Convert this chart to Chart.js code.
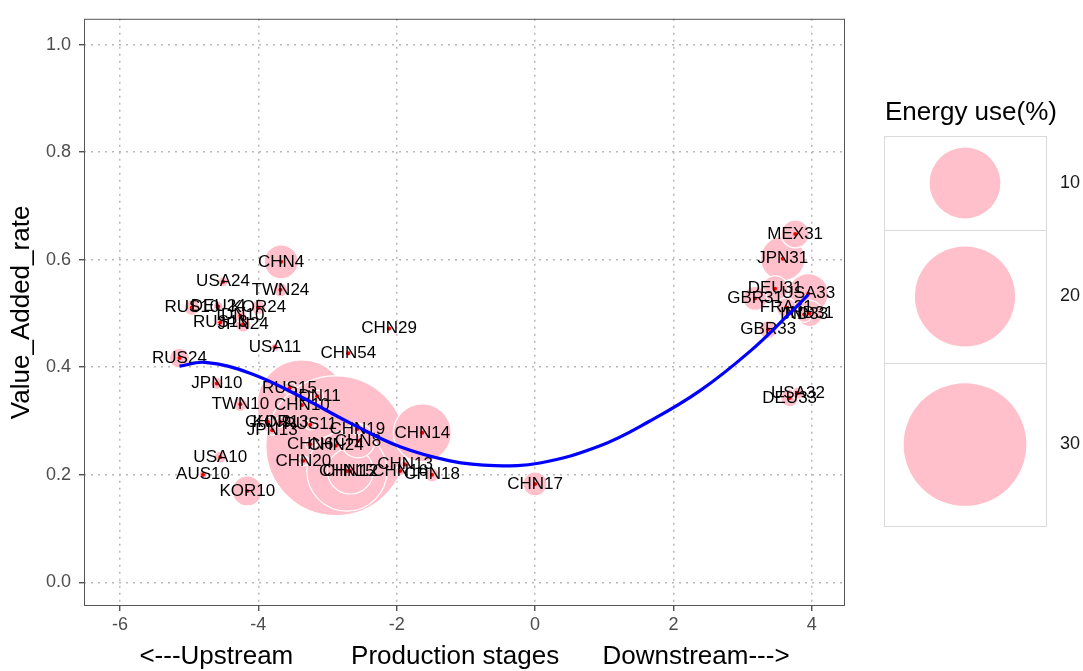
<!DOCTYPE html>
<html>
<head>
<meta charset="utf-8">
<title>Value added rate by production stage</title>
<script src="https://cdn.jsdelivr.net/npm/chart.js@4.4.0/dist/chart.umd.min.js"></script>
<style>
  html, body { margin: 0; padding: 0; background: #fff; }
  #wrap { width: 1083px; height: 671px; }
</style>
</head>
<body>
<div id="wrap"><canvas id="stage-chart" width="1083" height="671"></canvas></div>
<script>
// sectors in draw order (largest bubbles first)
const sectors = ['CHN10', 'CHN24', 'CHN15', 'CHN14', 'CHN12', 'JPN31', 'USA33', 'CHN4', 'CHN8', 'KOR10',
    'MEX31', 'DEU31', 'IND31', 'GBR31', 'CHN17', 'RUS24', 'FRA31', 'GBR33', 'DEU33', 'RUS10',
    'JPN24', 'IND33', 'TWN24', 'KOR24', 'TWN10', 'CHN18', 'IDN10', 'JPN10', 'USA10', 'RUS15',
    'IDN11', 'CHN19', 'USA32', 'USA24', 'DEU24', 'RUS13', 'CHN9', 'KOR13', 'JPN13', 'RUS11',
    'CHN6', 'CHN20', 'CHN13', 'CHN16', 'USA11', 'AUS10', 'CHN29', 'CHN54'];
const stages = [-3.37, -2.88, -2.72, -1.63, -2.67, 3.58, 3.95, -3.67, -2.56, -4.16,
    3.76, 3.47, 3.97, 3.18, 0.00, -5.14, 3.63, 3.37, 3.68, -4.96,
    -4.22, 3.89, -3.68, -4.00, -4.26, -1.49, -4.26, -4.60, -4.55, -3.55,
    -3.15, -2.57, 3.80, -4.51, -4.58, -4.55, -3.86, -3.68, -3.80, -3.25,
    -3.25, -3.35, -1.88, -1.95, -3.76, -4.80, -2.11, -2.70];
const valueAdded = [0.330, 0.254, 0.207, 0.278, 0.207, 0.602, 0.537, 0.596, 0.263, 0.170,
    0.648, 0.546, 0.500, 0.528, 0.183, 0.417, 0.511, 0.470, 0.343, 0.511,
    0.480, 0.498, 0.544, 0.511, 0.331, 0.200, 0.496, 0.370, 0.233, 0.361,
    0.346, 0.285, 0.352, 0.559, 0.513, 0.483, 0.298, 0.298, 0.283, 0.293,
    0.257, 0.226, 0.219, 0.207, 0.437, 0.200, 0.472, 0.426];
const energyUse = [16.1, 39, 12.8, 6.7, 4.2, 3.9, 3.2, 2.3, 2.3, 1.8,
    1.56, 1.35, 1.35, 1.15, 1.15, 0.8, 0.8, 0.65, 0.65, 0.5,
    0.5, 0.5, 0.4, 0.4, 0.4, 0.4, 0.3, 0.3, 0.3, 0.3,
    0.3, 0.3, 0.3, 0.2, 0.2, 0.2, 0.2, 0.2, 0.2, 0.2,
    0.2, 0.2, 0.2, 0.2, 0.13, 0.13, 0.07, 0.07];

// smoothed trend
const trendX = [-5.14, -4.77, -4.12, -3.40, -2.67, -1.95, -1.23, -0.58, 0.07, 0.94, 1.66, 2.38, 3.11, 3.68, 3.95];
const trendY = [0.402, 0.409, 0.389, 0.346, 0.296, 0.252, 0.226, 0.217, 0.222, 0.254, 0.300, 0.356, 0.430, 0.500, 0.535];

const xTicks = [-6, -4, -2, 0, 2, 4];
const yTicks = [0, 0.2, 0.4, 0.6, 0.8, 1.0];
const legendSizes = [10, 20, 30];

const FONT = '"Liberation Sans", Arial, sans-serif';
Chart.defaults.font.family = FONT;

function sizeOf(e) {
    return 11.2 * Math.sqrt(e);
}

const bubbles = sectors.map((s, i) => ({ x: stages[i], y: valueAdded[i], r: sizeOf(energyUse[i]) }));
const dots = sectors.map((s, i) => ({ x: stages[i], y: valueAdded[i], r: 2 }));
const trend = trendX.map((x, i) => ({ x: x, y: trendY[i] }));

const extras = {
    id: 'extras',
    afterDatasetDraw(chart, args) {
        if (args.index !== 1) return;
        const ctx = chart.ctx, sx = chart.scales.x, sy = chart.scales.y;
        ctx.save();
        ctx.font = '17px ' + FONT;
        ctx.fillStyle = '#000';
        ctx.textAlign = 'center';
        ctx.textBaseline = 'middle';
        sectors.forEach((s, i) => {
            ctx.fillText(s, sx.getPixelForValue(stages[i]), sy.getPixelForValue(valueAdded[i]));
        });
        ctx.restore();
    },
    afterDraw(chart) {
        const ctx = chart.ctx, a = chart.chartArea;
        ctx.save();
        // panel border
        ctx.strokeStyle = '#555';
        ctx.lineWidth = 1;
        ctx.strokeRect(a.left + 0.5, a.top + 0.5, a.right - a.left - 1, a.bottom - a.top - 1);

        // size legend
        ctx.fillStyle = '#000';
        ctx.font = '26px ' + FONT;
        ctx.textAlign = 'left';
        ctx.textBaseline = 'middle';
        ctx.fillText('Energy use(%)', 885, 113);

        const left = 884, width = 162;
        let top = 136;
        legendSizes.forEach(v => {
            const r = sizeOf(v);
            const h = Math.round(2 * r * 1.33);
            ctx.strokeStyle = '#d9d9d9';
            ctx.strokeRect(left + 0.5, top + 0.5, width, h);
            ctx.fillStyle = 'pink';
            ctx.beginPath();
            ctx.arc(left + width / 2, top + h / 2, r, 0, Math.PI * 2);
            ctx.fill();
            ctx.fillStyle = '#1a1a1a';
            ctx.font = '18px ' + FONT;
            ctx.fillText(String(v), 1060, top + h / 2);
            top += h;
        });
        ctx.restore();
    }
};

new Chart(document.getElementById('stage-chart'), {
    type: 'bubble',
    data: {
        datasets: [
            {
                label: 'Energy use',
                data: bubbles,
                backgroundColor: 'pink',
                borderColor: '#ffffff',
                borderWidth: 1.2,
                order: 3
            },
            {
                label: 'centre',
                data: dots,
                backgroundColor: 'red',
                borderWidth: 0,
                order: 2
            },
            {
                type: 'line',
                label: 'trend',
                data: trend,
                borderColor: '#0000ff',
                borderWidth: 3.2,
                pointRadius: 0,
                tension: 0.4,
                fill: false,
                order: 0
            }
        ]
    },
    options: {
        responsive: false,
        animation: false,
        layout: { autoPadding: false, padding: { left: 0, top: 16, right: 238, bottom: 0 } },
        plugins: {
            legend: { display: false },
            tooltip: { enabled: false }
        },
        scales: {
            x: {
                type: 'linear',
                min: -6.52,
                max: 4.48,
                afterBuildTicks: s => { s.ticks = xTicks.map(v => ({ value: v })); },
                afterFit: s => { s.height = 65; },
                grid: { color: '#b8b8b8', lineWidth: 1.5, tickColor: '#333', tickWidth: 1.2, tickLength: 5 },
                border: { display: false, dash: [2, 5] },
                ticks: { color: '#4d4d4d', font: { size: 18 }, padding: 3, maxRotation: 0, callback: v => String(v) },
                title: {
                    display: true,
                    text: '<---Upstream        Production stages      Downstream--->',
                    color: '#000',
                    font: { size: 26, lineHeight: 1 },
                    padding: { top: 0, bottom: 1 }
                }
            },
            y: {
                min: -0.044,
                max: 1.048,
                afterBuildTicks: s => { s.ticks = yTicks.map(v => ({ value: v })); },
                afterFit: s => { s.width = 84; },
                grid: { color: '#b8b8b8', lineWidth: 1.5, tickColor: '#333', tickWidth: 1.2, tickLength: 5 },
                border: { display: false, dash: [2, 5] },
                ticks: { color: '#4d4d4d', font: { size: 18 }, padding: 8, callback: v => v.toFixed(1) },
                title: {
                    display: true,
                    text: 'Value_Added_rate',
                    color: '#000',
                    font: { size: 26, lineHeight: 1 },
                    padding: { top: 9, bottom: 0 }
                }
            }
        }
    },
    plugins: [extras]
});
</script>
</body>
</html>
